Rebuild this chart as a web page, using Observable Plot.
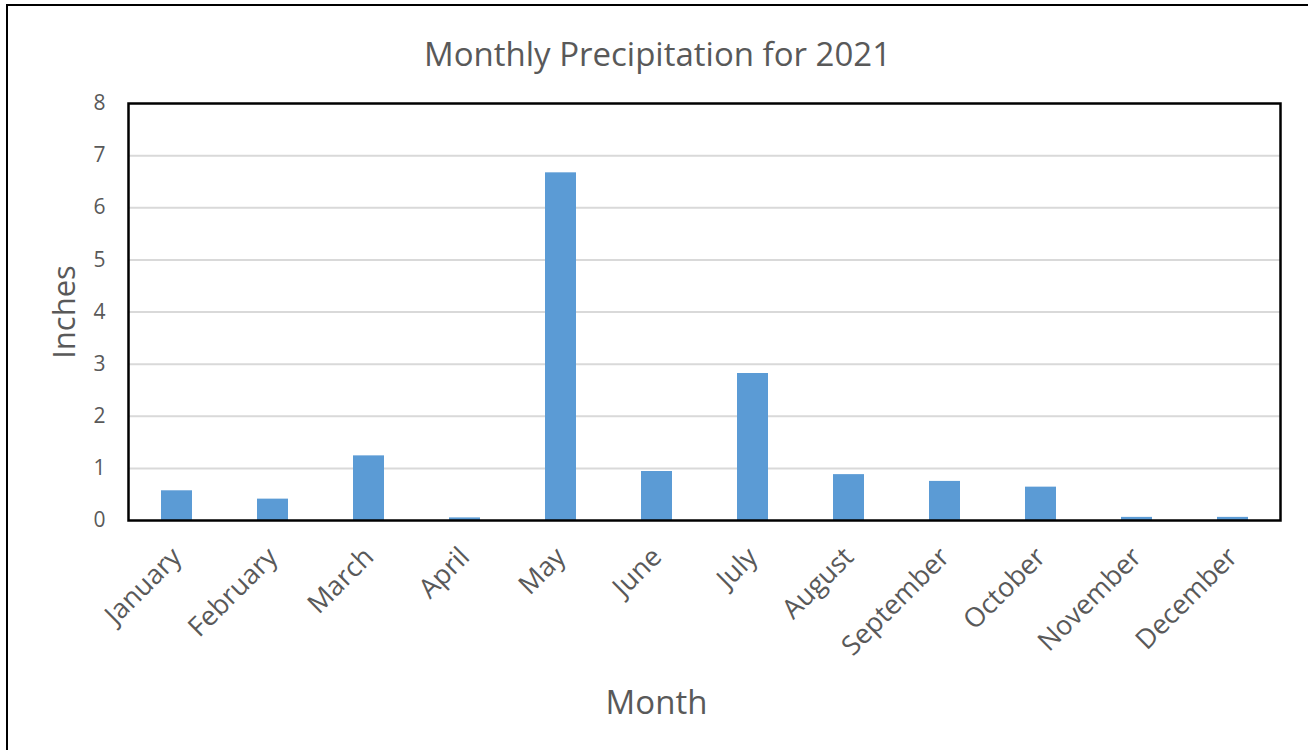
<!DOCTYPE html>
<html>
<head>
<meta charset="utf-8">
<script src="https://cdn.jsdelivr.net/npm/d3@7"></script>
<script src="https://cdn.jsdelivr.net/npm/@observablehq/plot@0.6"></script>
<style>
  html, body { margin: 0; padding: 0; background: #fff; }
  #wrap { position: relative; width: 1308px; height: 753px; overflow: hidden; }
  #border { position: absolute; left: 6px; top: 4px; width: 1310px; height: 746px;
            border-left: 2px solid #000; border-top: 2px solid #000; box-sizing: border-box; }
  #chart { position: absolute; left: 0; top: 0; }
</style>
</head>
<body>
<div id="wrap"><div id="border"></div><div id="chart"></div></div>
<script>
const months = ["January","February","March","April","May","June","July","August","September","October","November","December"];
const inches = [0.57, 0.41, 1.24, 0.05, 6.67, 0.94, 2.82, 0.88, 0.75, 0.64, 0.06, 0.06];
const yTicks = [0, 1, 2, 3, 4, 5, 6, 7, 8];
const gridTicks = [1, 2, 3, 4, 5, 6, 7];
const titleText = ["Monthly Precipitation for 2021"];
const xTitle = ["Month"];
const yTitle = ["Inches"];

const data = months.map((m, i) => ({month: m, value: inches[i]}));
const textColor = "#595959";

const chart = Plot.plot({
  width: 1308,
  height: 753,
  marginTop: 103,
  marginLeft: 128,
  marginRight: 28,
  marginBottom: 233,
  style: {fontFamily: "'Open Sans', sans-serif", color: textColor, background: "transparent"},
  x: {domain: months, paddingInner: 0.68, paddingOuter: 0.34},
  y: {domain: [0, 8]},
  marks: [
    Plot.gridY(gridTicks, {stroke: "#d9d9d9", strokeOpacity: 1, strokeWidth: 2}),
    Plot.barY(data, {x: "month", y: "value", fill: "#5b9bd5"}),
    Plot.frame({stroke: "#000", strokeWidth: 2.5}),
    Plot.axisY(yTicks, {tickSize: 0, tickPadding: 23, fontSize: 21, label: null, fill: textColor, tickFormat: d => String(d)}),
    Plot.axisX({tickSize: 0, tickPadding: 32, tickRotate: -45, fontSize: 27, label: null, fill: textColor}),
    Plot.text(titleText, {frameAnchor: "top", dx: -47, dy: -61, fontSize: 33, fill: textColor, text: d => d}),
    Plot.text(xTitle, {frameAnchor: "bottom", dx: -48, dy: 193, fontSize: 33, fill: textColor, text: d => d}),
    Plot.text(yTitle, {frameAnchor: "left", dx: -63, rotate: -90, textAnchor: "middle", fontSize: 31, fill: textColor, text: d => d})
  ]
});
document.getElementById("chart").appendChild(chart);
</script>
</body>
</html>
